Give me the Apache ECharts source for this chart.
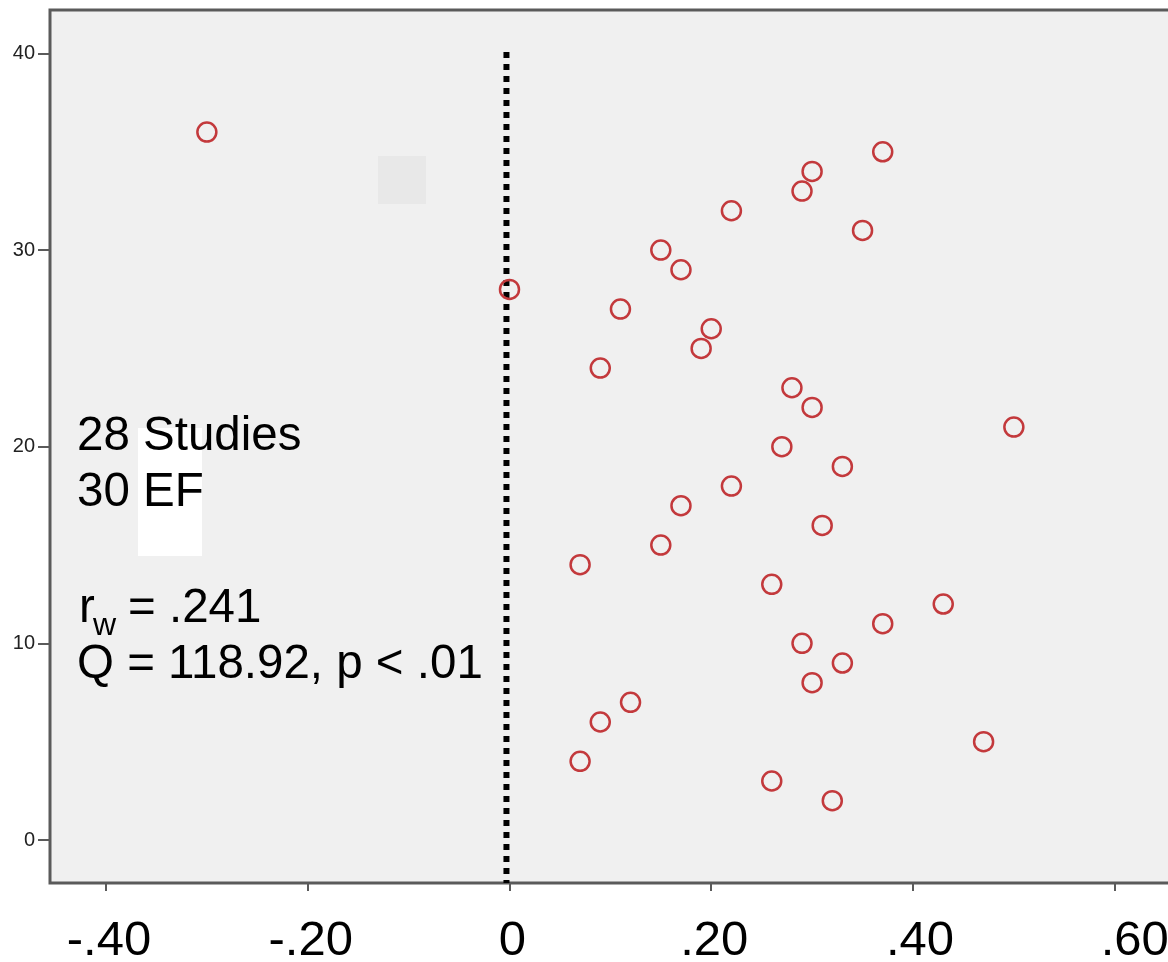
<!DOCTYPE html>
<html>
<head>
<meta charset="utf-8">
<script src="https://cdn.jsdelivr.net/npm/echarts@6/dist/echarts.min.js"></script>
<style>
html,body{margin:0;padding:0;background:#fff;}
#c{width:1168px;height:962px;}
</style>
</head>
<body>
<div id="c"></div>
<script>
// Effect sizes (r) and study index (y)
const effectR = [-0.30, 0.37, 0.30, 0.29, 0.22, 0.35, 0.15, 0.17, 0.00, 0.11, 0.20, 0.19, 0.09, 0.28, 0.30, 0.50, 0.27, 0.33, 0.22, 0.17, 0.31, 0.15, 0.07, 0.26, 0.43, 0.37, 0.29, 0.33, 0.30, 0.12, 0.09, 0.47, 0.07, 0.26, 0.32];
const studyIdx = [36, 35, 34, 33, 32, 31, 30, 29, 28, 27, 26, 25, 24, 23, 22, 21, 20, 19, 18, 17, 16, 15, 14, 13, 12, 11, 10, 9, 8, 7, 6, 5, 4, 3, 2];
const xTicks = [-0.4, -0.2, 0, 0.2, 0.4, 0.6];
const xTickLabels = ['-.40', '-.20', '0', '.20', '.40', '.60'];
const yTicks = [0, 10, 20, 30, 40];
const yTickLabels = ['0', '10', '20', '30', '40'];
const refLineX = -0.003;
const refLineY = [40.08, -2.19];
const xRange = [-0.4555, 0.6647];
const yRange = [-2.187, 42.21];

const points = effectR.map((v, i) => [v, studyIdx[i]]);
const FONT = "'Liberation Sans', Arial, sans-serif";
// small rightward nudges of the x tick labels as seen in the original
const xLabelNudge = [3, 3, 3, 3, 7, 20];
const xRich = {};
xLabelNudge.forEach((n, i) => {
  xRich['l' + i] = {fontSize: 49, fontFamily: FONT, color: '#000', padding: [0, 0, 0, 2 * n]};
});

const chart = echarts.init(document.getElementById('c'), null, {renderer: 'canvas'});
chart.setOption({
  animation: false,
  backgroundColor: '#ffffff',
  grid: {
    left: 50, top: 10, width: 1130, bottom: 79,
    outerBoundsMode: 'none', containLabel: false,
    show: true, backgroundColor: '#f0f0f0',
    borderColor: '#5a5a5a', borderWidth: 3
  },
  xAxis: {
    type: 'value', min: xRange[0], max: xRange[1],
    axisLine: {show: false, onZero: false},
    splitLine: {show: false},
    axisTick: {show: true, length: 8, customValues: xTicks, lineStyle: {color: '#5a5a5a', width: 2}},
    axisLabel: {
      customValues: xTicks, margin: 34,
      fontSize: 49, fontFamily: FONT, color: '#000',
      rich: xRich,
      formatter: function (v) {
        const i = xTicks.findIndex(t => Math.abs(t - v) < 1e-6);
        return i >= 0 ? '{l' + i + '|' + xTickLabels[i] + '}' : '';
      }
    }
  },
  yAxis: {
    type: 'value', min: yRange[0], max: yRange[1],
    axisLine: {show: false, onZero: false},
    splitLine: {show: false},
    axisTick: {show: true, length: 12, customValues: yTicks, lineStyle: {color: '#5a5a5a', width: 2}},
    axisLabel: {
      customValues: yTicks, margin: 15,
      fontSize: 20, fontFamily: FONT, color: '#222',
      formatter: function (v) {
        const i = yTicks.findIndex(t => Math.abs(t - v) < 1e-6);
        return i >= 0 ? yTickLabels[i] : '';
      }
    }
  },
  graphic: [
    {type: 'rect', z: 1, shape: {x: 378, y: 156, width: 48, height: 48}, style: {fill: '#e8e8e8'}},
    {type: 'rect', z: 1, shape: {x: 138, y: 428, width: 64, height: 128}, style: {fill: '#ffffff'}},
    {type: 'text', z: 100, x: 77, y: 437, style: {text: '28 Studies', font: "47.5px " + FONT, fill: '#000', verticalAlign: 'middle'}},
    {type: 'text', z: 100, x: 77, y: 493, style: {text: '30 EF', font: "47.5px " + FONT, fill: '#000', verticalAlign: 'middle'}},
    {type: 'text', z: 100, x: 79, y: 609, style: {text: 'r', font: "47.5px " + FONT, fill: '#000', verticalAlign: 'middle'}},
    {type: 'text', z: 100, x: 93, y: 626, style: {text: 'w', font: "32px " + FONT, fill: '#000', verticalAlign: 'middle'}},
    {type: 'text', z: 100, x: 128, y: 609, style: {text: '= .241', font: "47.5px " + FONT, fill: '#000', verticalAlign: 'middle'}},
    {type: 'text', z: 100, x: 77, y: 665, style: {text: 'Q = 118.92, p < .01', font: "47.5px " + FONT, fill: '#000', verticalAlign: 'middle'}}
  ],
  series: [
    {
      type: 'line',
      data: [[refLineX, refLineY[0]], [refLineX, refLineY[1]]],
      symbol: 'none',
      lineStyle: {color: '#000', width: 6, type: [6, 6], cap: 'butt'},
      z: 3, silent: true
    },
    {
      type: 'scatter',
      data: points,
      symbol: 'circle',
      symbolSize: 19,
      itemStyle: {color: 'rgba(0,0,0,0)', borderColor: '#c3393c', borderWidth: 2.5, opacity: 1},
      z: 4
    }
  ]
});
</script>
</body>
</html>
